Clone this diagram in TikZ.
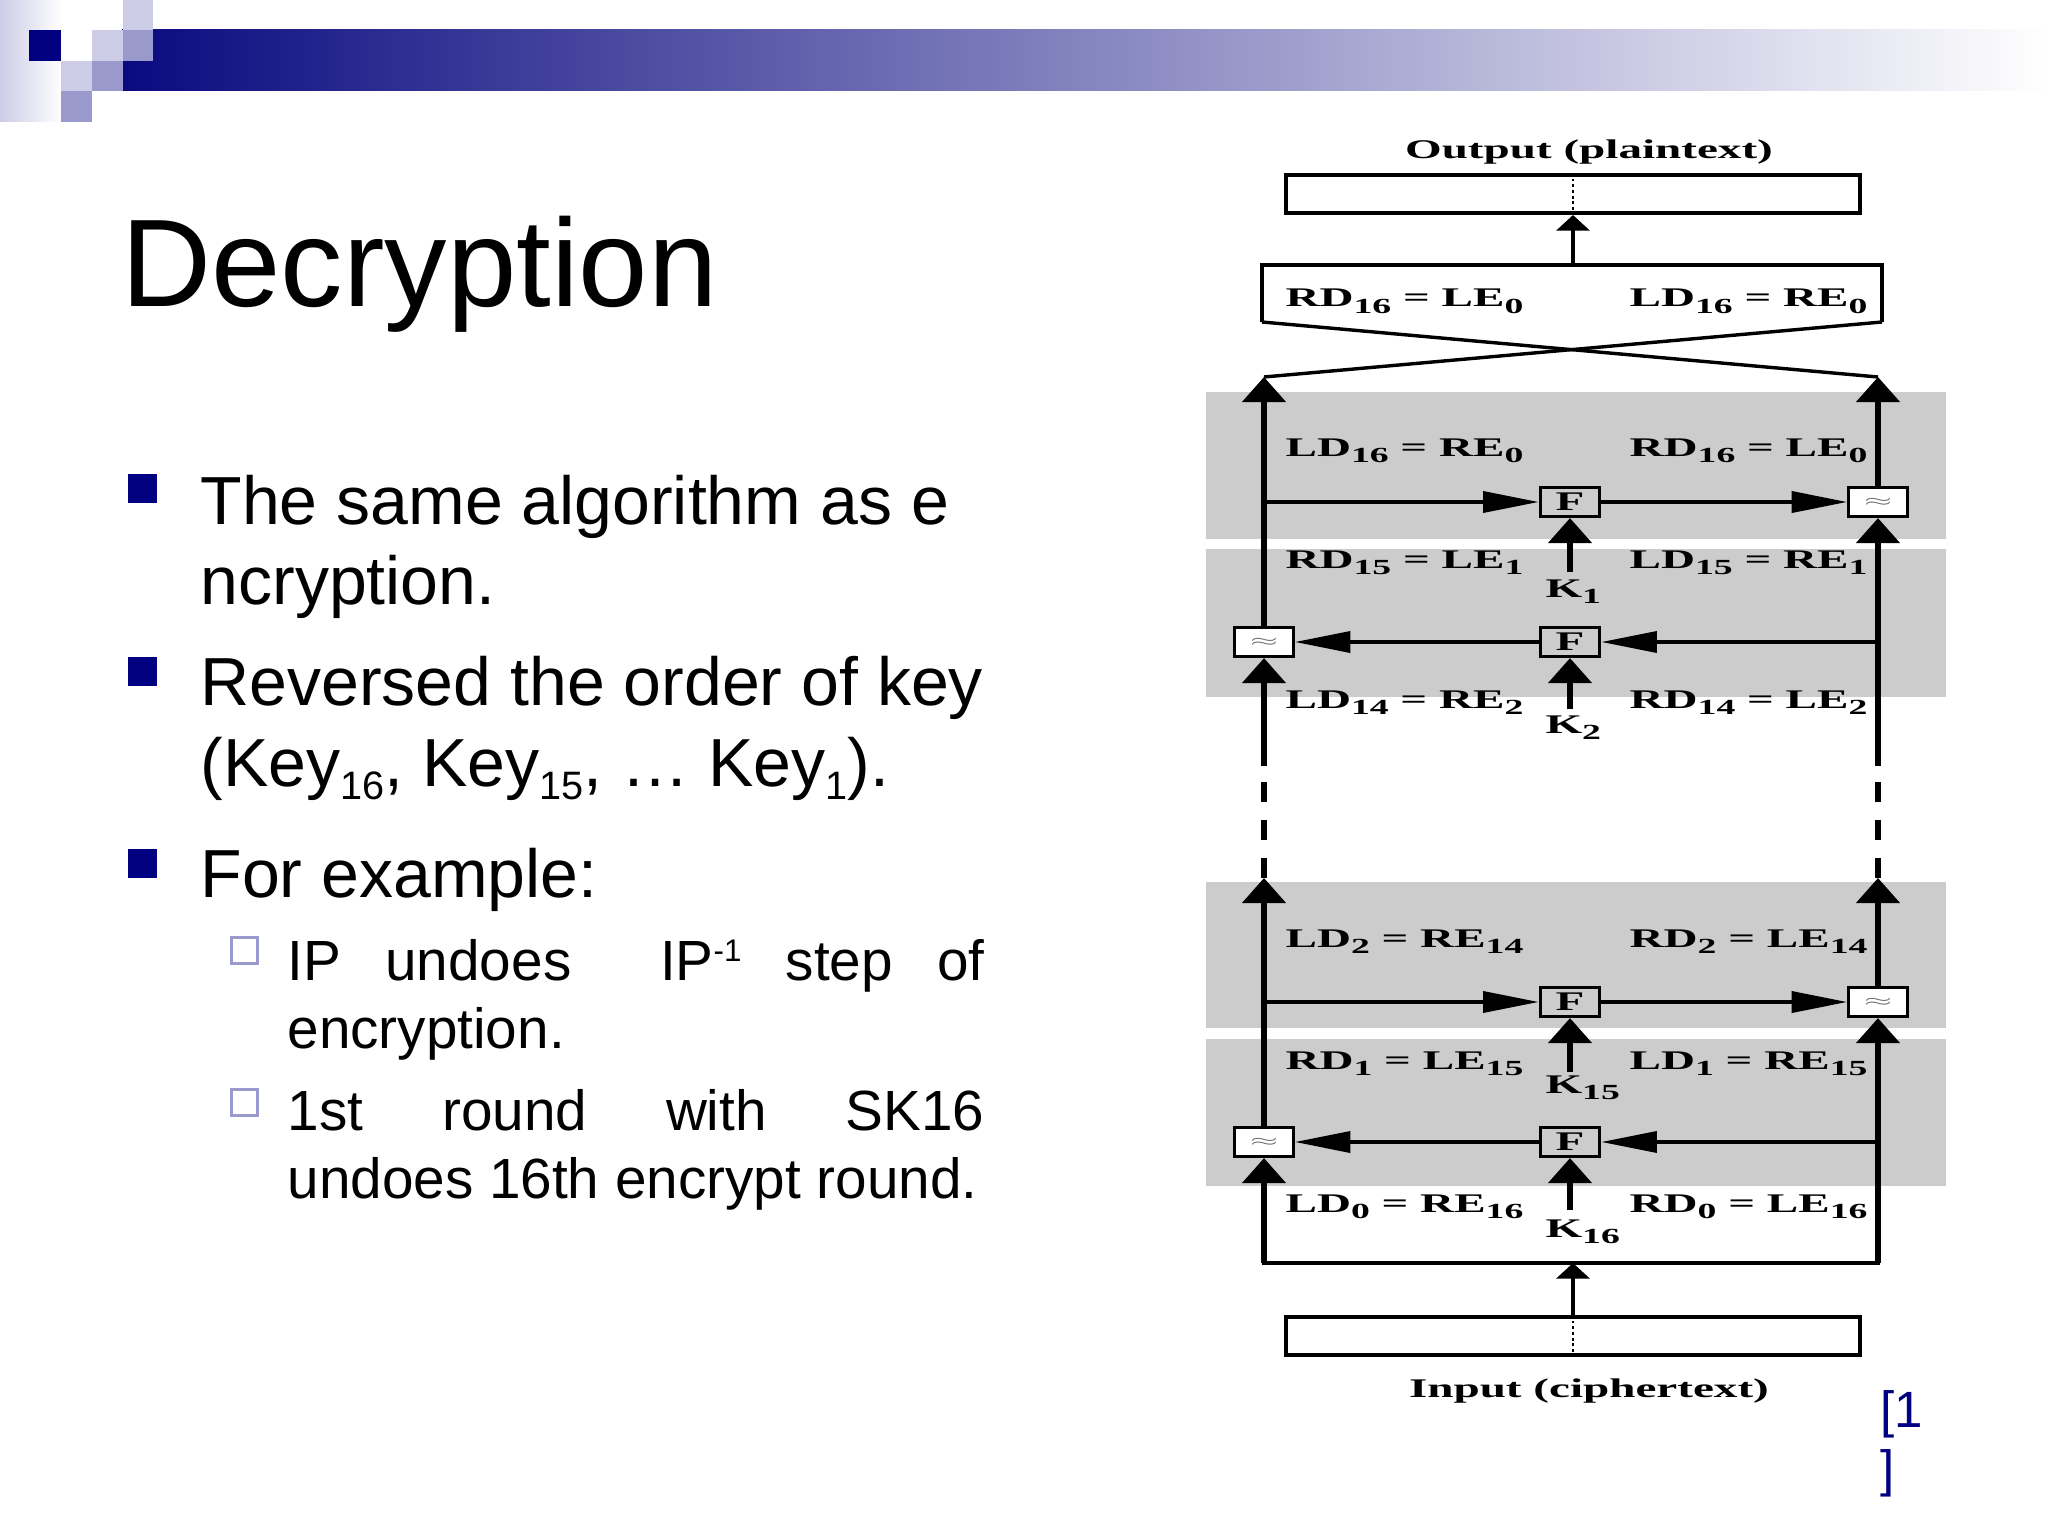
\documentclass[tikz,border=0pt]{standalone}
\usepackage{fontspec}
\usepackage{graphicx}
\setmainfont{Liberation Sans}
\newfontfamily\diagfont{Liberation Serif}[FakeStretch=1.75]
\usetikzlibrary{arrows.meta}
\definecolor{navyblue}{RGB}{0,0,128}
\definecolor{barnavy}{RGB}{10,10,128}
\definecolor{lavlight}{RGB}{204,204,230}
\definecolor{lavmid}{RGB}{153,153,204}
\definecolor{bandgray}{RGB}{204,204,204}
\newcommand\xorsym{{\color{black!60}\fontsize{6}{6}\selectfont\scalebox{1.8}[0.8]{$\approx$}}}
\newcommand\dsub[1]{\raisebox{-2.4bp}{\fontsize{7.6}{7.6}\selectfont #1}}
\newcommand\ksub[1]{\raisebox{-4.6bp}{\fontsize{14}{14}\selectfont #1}}

\begin{document}
\begin{tikzpicture}[x=0.3515625bp, y=-0.3515625bp,
    band/.style={fill=bandgray},
    fbox/.style={draw, line width=1.1bp, fill=bandgray, minimum width=21bp, minimum height=10.2bp,
      inner sep=0pt, font=\diagfont\bfseries\fontsize{9.5}{9.5}\selectfont},
    xorbox/.style={draw, line width=1.1bp, fill=white, minimum width=20.6bp, minimum height=10.2bp, inner sep=0pt},
    iobox/.style={draw, line width=1.4bp, minimum width=201.8bp, minimum height=13.4bp, inner sep=0pt},
    lbl/.style={font=\diagfont\bfseries\fontsize{9.5}{9.5}\selectfont, inner sep=0pt},
    mainline/.style={line width=2.1bp},
    uparrow/.style={mainline, -{Triangle[length=8.8bp, width=15bp]}},
    sidearrow/.style={line width=1.2bp, -{Triangle[length=19.5bp, width=7.4bp]}},
    smallarrow/.style={line width=1.6bp, -{Triangle[length=5.5bp, width=11.6bp]}},
    swapline/.style={line width=1.2bp},
    gapline/.style={mainline, dash pattern=on 7bp off 6.3bp},
    bullettext/.style={anchor=base west, inner sep=0pt, font=\fontsize{24}{28}\selectfont},
    subtext/.style={anchor=base west, inner sep=0pt, font=\fontsize{20}{24}\selectfont},
    bulletsq/.style={fill=navyblue, minimum size=10.2bp, inner sep=0pt},
    subsq/.style={draw=lavmid, line width=0.9bp, fill=white, minimum size=9.3bp, inner sep=0pt}
  ]
    % Seitenformat
    \useasboundingbox (0,0) rectangle (2048,1536);
    \fill[white] (0,0) rectangle (2048,1536);

    % Kopfleiste mit Kaestchen
    \shade[left color=lavlight, right color=white] (0,0) rectangle (62,122);
    \shade[left color=barnavy, right color=white] (122,30) rectangle (2048,91);
    \fill[navyblue] (29,30) rectangle (61,61);
    \fill[lavlight] (123,0) rectangle (153,30);
    \fill[lavlight] (92,30) rectangle (123,61);
    \fill[lavlight] (61,61) rectangle (92,91);
    \fill[lavmid] (123,30) rectangle (153,61);
    \fill[lavmid] (92,61) rectangle (123,91);
    \fill[lavmid] (61,91) rectangle (92,122);

    % Titel
    \node[anchor=base west, inner sep=0pt, font=\fontsize{44}{53}\selectfont] (title) at (121,306) {Decryption};

    % Aufzaehlung
    \node[bulletsq] (sq1) at (142.5,488.5) {};
    \node[bullettext] (t1a) at (200,524) {The same algorithm as e};
    \node[bullettext] (t1b) at (200,604) {ncryption.};
    \node[bulletsq] (sq2) at (142.5,671.5) {};
    \node[bullettext] (t2a) at (200,705) {Reversed the order of key};
    \node[bullettext] (t2b) at (200,786) {(Key\ksub{16}, Key\ksub{15}, … Key\ksub{1}).};
    \node[bulletsq] (sq3) at (142.5,863.5) {};
    \node[bullettext] (t3a) at (200,897) {For example:};

    % Unterpunkte (Blocksatz)
    \node[subsq] (ssq1) at (244.5,950.5) {};
    \node[subtext] (s1a) at (287,980) {\makebox[245bp][s]{IP undoes\ \ IP\raisebox{6.4bp}{\fontsize{11}{11}\selectfont -1} step of}};
    \node[subtext] (s1b) at (287,1048) {encryption.};
    \node[subsq] (ssq2) at (244.5,1102.5) {};
    \node[subtext] (s2a) at (287,1130) {\makebox[245bp][s]{1st round with SK16}};
    \node[subtext] (s2b) at (287,1198) {undoes 16th encrypt round.};

    % Quellenangabe
    \node[anchor=base west, inner sep=0pt, text=navyblue, font=\fontsize{18}{21}\selectfont] (ref1) at (1880,1427) {[1};
    \node[anchor=base west, inner sep=0pt, text=navyblue, font=\fontsize{18}{21}\selectfont] (ref2) at (1880,1486) {]};

    % Graue Rundenbaender
    \fill[band] (1206,392) rectangle (1946,539);
    \fill[band] (1206,549) rectangle (1946,697);
    \fill[band] (1206,882) rectangle (1946,1028);
    \fill[band] (1206,1039) rectangle (1946,1186);

    % Beschriftungen der Haelften
    \foreach \y/\lt/\rt [count=\i] in {
        307/RD\dsub{16} = LE\dsub{0}/LD\dsub{16} = RE\dsub{0},
        456/LD\dsub{16} = RE\dsub{0}/RD\dsub{16} = LE\dsub{0},
        568/RD\dsub{15} = LE\dsub{1}/LD\dsub{15} = RE\dsub{1},
        708/LD\dsub{14} = RE\dsub{2}/RD\dsub{14} = LE\dsub{2},
        947/LD\dsub{2} = RE\dsub{14}/RD\dsub{2} = LE\dsub{14},
        1069/RD\dsub{1} = LE\dsub{15}/LD\dsub{1} = RE\dsub{15},
        1212/LD\dsub{0} = RE\dsub{16}/RD\dsub{0} = LE\dsub{16}} {
      \node[lbl, anchor=base west] (lhs\i) at (1285,\y) {\lt};
      \node[lbl, anchor=base east] (rhs\i) at (1868,\y) {\rt};
    }

    % Ein- und Ausgabe
    \node[iobox] (outbox) at (1573,194) {};
    \node[lbl, anchor=base] (outlbl) at (1589,159) {Output (plaintext)};
    \node[iobox] (inbox) at (1573,1336) {};
    \node[lbl, anchor=base] (inlbl) at (1589,1397) {Input (ciphertext)};
    \draw[line width=0.6bp, dash pattern=on 1bp off 1bp] (outbox.north) -- (outbox.south);
    \draw[line width=0.6bp, dash pattern=on 1bp off 1bp] (inbox.north) -- (inbox.south);

    % Runde mit K1
    \node[fbox] (f1) at (1570,502) {F};
    \node[xorbox] (x1) at (1878,502) {\xorsym};
    \coordinate (h1) at (1264,502);
    \coordinate (k1top) at (1570,572);
    \node[lbl, anchor=base west] (k1) at (1545,597) {K\dsub{1}};

    % Runde mit K2
    \node[fbox] (f2) at (1570,642) {F};
    \node[xorbox] (x2) at (1264,642) {\xorsym};
    \coordinate (h2) at (1878,642);
    \coordinate (k2top) at (1570,709);
    \node[lbl, anchor=base west] (k2) at (1545,733) {K\dsub{2}};

    % Runde mit K15
    \node[fbox] (f3) at (1570,1002) {F};
    \node[xorbox] (x3) at (1878,1002) {\xorsym};
    \coordinate (h3) at (1264,1002);
    \coordinate (k3top) at (1570,1072);
    \node[lbl, anchor=base west] (k3) at (1545,1093) {K\dsub{15}};

    % Runde mit K16
    \node[fbox] (f4) at (1570,1142) {F};
    \node[xorbox] (x4) at (1264,1142) {\xorsym};
    \coordinate (h4) at (1878,1142);
    \coordinate (k4top) at (1570,1210);
    \node[lbl, anchor=base west] (k4) at (1545,1237) {K\dsub{16}};

    % Funktionspfeile
    \draw[sidearrow] (h1) -- (f1);
    \draw[sidearrow] (f1) -- (x1);
    \draw[sidearrow] (h2) -- (f2);
    \draw[sidearrow] (f2) -- (x2);
    \draw[sidearrow] (h3) -- (f3);
    \draw[sidearrow] (f3) -- (x3);
    \draw[sidearrow] (h4) -- (f4);
    \draw[sidearrow] (f4) -- (x4);
    \draw[uparrow] (k1top) -- (f1);
    \draw[uparrow] (k2top) -- (f2);
    \draw[uparrow] (k3top) -- (f3);
    \draw[uparrow] (k4top) -- (f4);

    % Hauptleitungen links und rechts
    \coordinate (lb) at (1264,1263);
    \coordinate (rb) at (1878,1263);
    \coordinate (mb) at (1573,1263);
    \coordinate (tipL1) at (1264,377);
    \coordinate (tipR1) at (1878,377);
    \coordinate (tipL3) at (1264,878);
    \coordinate (tipR3) at (1878,878);
    \coordinate (gapL) at (1264,766);
    \coordinate (gapR) at (1878,766);
    \draw[line width=1.6bp, line cap=rect] (lb) -- (rb);
    \draw[uparrow] (lb) -- (x4);
    \draw[uparrow] (x4) -- (tipL3);
    \draw[gapline] (tipL3) -- (gapL);
    \draw[uparrow] (gapL) -- (x2);
    \draw[uparrow] (x2) -- (tipL1);
    \draw[uparrow] (rb) -- (x3);
    \draw[uparrow] (x3) -- (tipR3);
    \draw[gapline] (tipR3) -- (gapR);
    \draw[uparrow] (gapR) -- (x1);
    \draw[uparrow] (x1) -- (tipR1);
    \draw[smallarrow] (inbox.north) -- (mb);

    % Vertauschung der Haelften
    \coordinate (swTL) at (1262,265);
    \coordinate (swTR) at (1882,265);
    \coordinate (swBL) at (1262,322);
    \coordinate (swBR) at (1882,322);
    \coordinate (swTop) at (1573,265);
    \draw[swapline, line join=miter] (swBL) -- (swTL) -- (swTR) -- (swBR);
    \draw[swapline] (swBL) -- (tipR1);
    \draw[swapline] (swBR) -- (tipL1);
    \draw[smallarrow] (swTop) -- (outbox.south);
\end{tikzpicture}
\end{document}
